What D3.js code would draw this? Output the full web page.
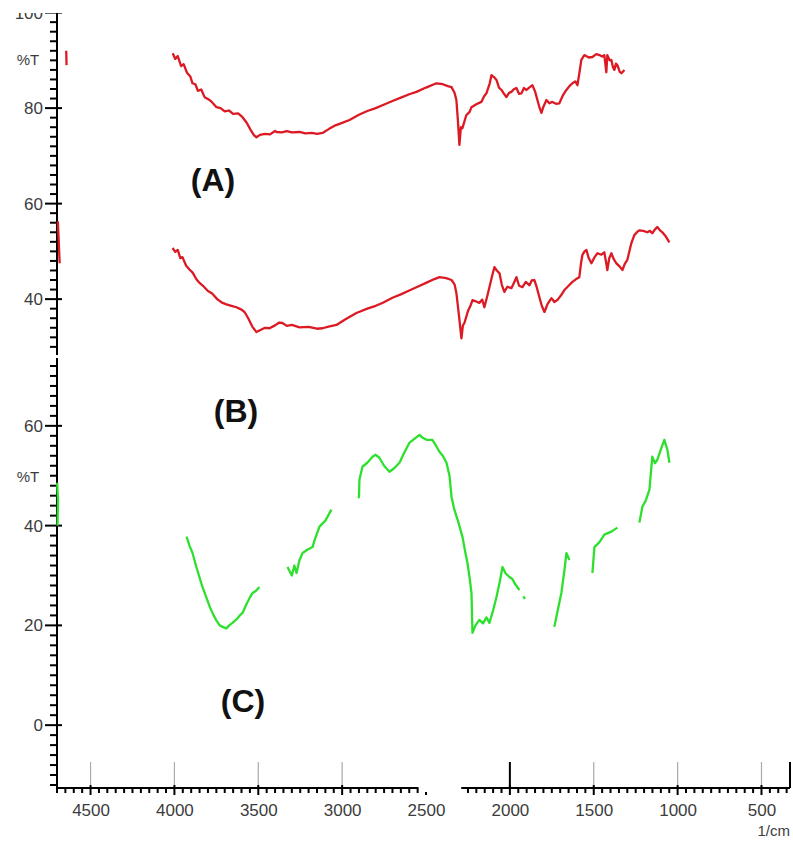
<!DOCTYPE html>
<html>
<head>
<meta charset="utf-8">
<script src="https://cdn.jsdelivr.net/npm/d3@7"></script>
<style>
  body { margin: 0; background: #fff; }
  svg { display: block; font-family: "Liberation Sans", Arial, sans-serif; }
</style>
</head>
<body>
<script>
// FTIR spectra, [wavenumber (1/cm), %T]
var specA = [
  [4010,91.5],[3995,90.3],[3980,90.9],[3960,88.8],[3945,89.2],[3925,87.4],[3905,86.6],[3892,85.2],[3875,85.0],[3860,83.6],
  [3840,83.9],[3820,82.3],[3800,81.9],[3780,81.4],[3749,80.2],[3725,80.0],[3700,79.3],[3675,79.5],[3650,78.8],[3620,78.9],
  [3594,78.1],[3570,77.0],[3545,75.4],[3525,74.3],[3511,73.9],[3490,74.4],[3460,74.6],[3430,74.5],[3400,75.2],[3391,75.0],
  [3360,74.9],[3330,75.2],[3300,74.9],[3254,75.0],[3220,74.7],[3180,74.8],[3150,74.6],[3117,74.8],[3080,75.6],[3040,76.4],
  [3000,76.9],[2956,77.5],[2900,78.6],[2850,79.4],[2800,80.0],[2760,80.6],[2700,81.5],[2650,82.2],[2600,82.9],[2557,83.4],
  [2500,84.3],[2438,85.2],[2400,85.0],[2370,84.6],[2348,84.4],[2330,83.2],[2319,81.7],[2310,77.5],[2301,72.3],[2292,76.0],
  [2283,75.8],[2260,78.5],[2240,79.2],[2229,80.2],[2200,80.8],[2170,81.3],[2155,82.4],[2140,83.1],[2120,85.2],[2110,86.9],
  [2095,86.5],[2080,85.9],[2065,84.3],[2050,83.8],[2035,83.0],[2021,82.3],[2005,83.2],[1991,83.4],[1975,84.0],[1961,84.2],
  [1946,83.0],[1931,83.1],[1916,84.2],[1901,83.8],[1885,84.3],[1866,84.8],[1850,83.5],[1836,81.7],[1824,80.2],[1812,79.0],
  [1800,80.3],[1782,81.7],[1765,81.0],[1747,81.3],[1725,80.9],[1705,81.0],[1685,82.6],[1663,83.8],[1645,84.6],[1627,85.2],
  [1610,85.6],[1597,84.8],[1585,87.5],[1574,90.1],[1556,91.1],[1530,90.6],[1508,90.7],[1485,91.3],[1466,91.1],[1450,90.8],
  [1437,91.1],[1425,87.5],[1419,91.1],[1405,90.0],[1395,90.1],[1385,88.5],[1377,88.0],[1368,89.3],[1359,89.0],[1345,87.6],
  [1335,87.3],[1317,88.0]
];
var specB = [
  [4011,50.7],[3995,49.9],[3980,50.3],[3965,48.6],[3952,48.8],[3930,47.0],[3910,46.2],[3890,45.5],[3870,44.2],[3850,43.4],
  [3830,42.8],[3800,41.7],[3775,41.2],[3745,40.0],[3713,39.2],[3690,38.9],[3660,38.6],[3630,38.3],[3600,37.8],[3582,37.3],
  [3560,36.0],[3535,34.2],[3511,33.1],[3490,33.5],[3460,34.0],[3433,33.9],[3400,34.5],[3375,35.1],[3356,35.0],[3330,34.4],
  [3300,34.6],[3254,34.1],[3200,34.2],[3150,33.8],[3117,33.9],[3075,34.3],[3034,34.6],[2980,35.8],[2915,37.1],[2850,38.0],
  [2800,38.6],[2760,39.2],[2700,40.3],[2650,41.0],[2600,41.8],[2557,42.5],[2500,43.4],[2450,44.2],[2420,44.6],[2380,44.4],
  [2348,44.0],[2330,43.1],[2319,41.3],[2305,37.0],[2289,31.8],[2280,34.5],[2271,35.0],[2250,37.5],[2235,38.6],[2223,39.8],
  [2200,39.5],[2182,39.2],[2165,39.9],[2152,38.3],[2135,40.6],[2122,42.5],[2105,45.0],[2092,46.7],[2078,46.0],[2062,45.4],
  [2048,43.0],[2033,41.5],[2015,42.6],[1991,42.3],[1975,43.5],[1961,44.6],[1945,42.8],[1925,42.5],[1905,43.6],[1883,42.9],
  [1870,43.9],[1854,44.0],[1840,42.5],[1824,40.4],[1810,38.6],[1794,37.3],[1775,39.0],[1752,40.2],[1735,39.4],[1717,39.8],
  [1695,40.8],[1675,41.9],[1650,42.8],[1627,43.6],[1605,44.2],[1586,44.6],[1576,47.5],[1568,49.2],[1555,50.0],[1544,50.3],
  [1530,48.6],[1514,47.5],[1495,48.8],[1478,49.6],[1455,49.3],[1437,49.8],[1428,48.0],[1419,46.1],[1408,48.5],[1395,49.6],
  [1380,48.3],[1365,47.5],[1345,46.8],[1329,46.1],[1315,47.4],[1300,48.2],[1285,50.4],[1276,51.7],[1258,53.4],[1240,54.1],
  [1228,54.4],[1205,54.3],[1180,54.0],[1165,54.3],[1151,53.8],[1135,54.6],[1121,55.1],[1105,54.4],[1091,54.0],[1070,53.1],
  [1049,51.9]
];
// null = gap in the trace
var specC = [
  [3928,37.8],[3910,36.0],[3892,34.5],[3870,31.8],[3850,29.6],[3833,27.7],[3810,25.6],[3790,23.8],[3773,22.5],[3750,21.0],
  [3730,20.0],[3713,19.7],[3690,19.4],[3670,20.1],[3654,20.5],[3630,21.2],[3610,22.0],[3594,22.5],[3570,24.3],[3550,25.6],
  [3534,26.5],[3515,26.9],[3493,27.7],
  [3420,null],
  [3326,31.7],[3300,30.0],[3285,32.0],[3272,30.5],[3255,33.0],[3236,34.5],[3210,35.1],[3177,35.7],[3160,37.5],[3135,39.8],
  [3100,41.0],[3064,43.2],
  [2980,null],
  [2900,45.5],[2897,49.2],[2879,51.8],[2850,52.6],[2819,53.8],[2800,54.2],[2778,53.6],[2750,52.0],[2718,50.8],[2690,51.5],[2658,52.6],
  [2630,54.6],[2599,56.6],[2570,57.4],[2539,58.2],[2520,57.6],[2497,57.2],[2462,57.2],[2440,56.0],[2420,54.8],[2400,54.0],
  [2378,52.6],[2360,50.0],[2348,45.8],[2331,43.2],[2310,41.0],[2283,37.8],[2265,34.5],[2253,32.5],[2240,29.5],[2229,26.5],
  [2223,18.5],[2205,20.0],[2182,21.1],[2160,20.4],[2140,21.6],[2122,20.5],[2100,23.0],[2080,25.7],[2060,28.8],[2044,31.7],
  [2025,30.4],[2003,29.7],[1985,29.3],[1973,28.5],[1943,27.1],
  [1930,null],
  [1920,25.8],[1910,25.3],
  [1800,null],
  [1735,19.7],[1715,23.0],[1693,26.5],[1675,31.0],[1663,34.5],[1645,33.1],
  [1580,null],
  [1508,30.5],[1496,35.7],[1466,36.7],[1437,38.2],[1395,38.8],[1359,39.6],
  [1300,null],
  [1228,40.6],[1210,43.8],[1190,45.0],[1168,47.2],[1151,53.8],[1135,52.5],[1121,53.2],[1100,55.3],[1079,57.2],[1061,55.2],
  [1049,52.6]
];
// bits of trace left over at the left edge
var fragA = [[4645,92.0],[4643,89.0]];
var fragB = [[4695,56.3],[4690,52.5],[4686,49.0],[4684,47.5]];
var fragC = [[4699,48.6],[4694,45.0],[4697,40.0]];

var xMajor = [4500, 4000, 3500, 3000, 2500, 2000, 1500, 1000, 500];
var yTopTicks = [40, 60, 80, 100];
var yBotTicks = [0, 20, 40, 60];
var panelLabels = ["(A)", "(B)", "(C)"];

var W = 793, H = 844;
var ink = "#000", labelInk = "#3c3c3c";
var svg = d3.select("body").append("svg").attr("width", W).attr("height", H);
svg.append("rect").attr("width", W).attr("height", H).attr("fill", "#fff");

var x = d3.scaleLinear().domain([4700, 330]).range([57, 790]);
var yTop = d3.scaleLinear().domain([28.3, 100]).range([355, 12.6]);
var yBot = d3.scaleLinear().domain([-12.6, 73.6]).range([788, 358]);
var baseY = 788;
var gapFrom = 2545, gapTo = 2290;   // x axis is cut here

function vTick(g, data, y1, y2, color, width) {
  return g.selectAll("line").data(data).join("line")
    .attr("x1", function (d) { return x(d); }).attr("x2", function (d) { return x(d); })
    .attr("y1", function (d) { return typeof y1 == "function" ? y1(d) : y1; }).attr("y2", y2)
    .attr("stroke", color).attr("stroke-width", width);
}
function hTick(g, data, scale, x1, x2, width) {
  return g.selectAll("line").data(data).join("line")
    .attr("x1", x1).attr("x2", x2)
    .attr("y1", function (d) { return scale(d); }).attr("y2", function (d) { return scale(d); })
    .attr("stroke", ink).attr("stroke-width", width);
}

// vertical grid stubs above the x axis
vTick(svg.append("g"), xMajor.filter(function (d) { return d != 2500 && d != 2000; }), 762, baseY, "#aaa", 1.2);
vTick(svg.append("g"), [2000, 330], 762, baseY, ink, 2);

// x axis: two segments
[[4700, gapFrom], [gapTo, 330]].forEach(function (seg) {
  svg.append("line").attr("x1", x(seg[0])).attr("x2", x(seg[1]))
    .attr("y1", baseY).attr("y2", baseY).attr("stroke", ink).attr("stroke-width", 2);
});
var xMinor = d3.range(4700, 330, -50).filter(function (d) {
  return xMajor.indexOf(d) < 0 && !(d < gapFrom && d > gapTo);
});
vTick(svg.append("g"), xMinor, baseY, baseY + 5, ink, 2);
vTick(svg.append("g"), xMajor, function (d) { return d == 2500 ? baseY + 4 : baseY - 3; }, baseY + 7, ink, 2);
svg.append("g").attr("transform", "translate(0," + baseY + ")")
  .call(d3.axisBottom(x).tickValues(xMajor).tickSize(0).tickPadding(16).tickFormat(d3.format("d")))
  .call(function (g) {
    g.select(".domain").remove();
    g.selectAll("text").attr("font-size", 17).attr("fill", labelInk)
      .attr("font-family", "Liberation Sans, Arial, sans-serif");
  });
svg.append("text").attr("x", 790).attr("y", 836).attr("text-anchor", "end")
  .attr("font-size", 15).attr("fill", labelInk).text("1/cm");

// y axes, top (A, B) and bottom (C)
function yAxis(scale, majors, minors, pctY) {
  var r = scale.range();
  svg.append("line").attr("x1", 57).attr("x2", 57).attr("y1", r[0]).attr("y2", r[1])
    .attr("stroke", ink).attr("stroke-width", 2);
  hTick(svg.append("g"), minors, scale, 50, 58, 2);
  hTick(svg.append("g"), majors, scale, 45, 62, 2);
  svg.append("g").attr("transform", "translate(57,0)")
    .call(d3.axisLeft(scale).tickValues(majors).tickSize(0).tickPadding(14))
    .call(function (a) {
      a.select(".domain").remove();
      a.selectAll("text").attr("font-size", 17).attr("fill", labelInk)
        .attr("font-family", "Liberation Sans, Arial, sans-serif");
    });
  svg.append("text").attr("x", 28).attr("y", pctY).attr("text-anchor", "middle").attr("dy", "0.35em")
    .attr("font-size", 15).attr("fill", labelInk).text("%T");
}
yAxis(yTop, yTopTicks, d3.range(30, 101, 2).filter(function (d) { return yTopTicks.indexOf(d) < 0; }), 60);
yAxis(yBot, yBotTicks, d3.range(-12, 74, 2).filter(function (d) { return yBotTicks.indexOf(d) < 0; }), 477);

// spectra
function trace(data, yScale, color) {
  var line = d3.line()
    .defined(function (d) { return d[1] != null; })
    .x(function (d) { return x(d[0]); })
    .y(function (d) { return yScale(d[1]); });
  svg.append("path").datum(data).attr("d", line)
    .attr("fill", "none").attr("stroke", color).attr("stroke-width", 2.3)
    .attr("stroke-linejoin", "round");
}
var red = "#dc1a24", green = "#2ee02e";
trace(specA, yTop, red);
trace(specB, yTop, red);
trace(specC, yBot, green);
trace(fragA, yTop, red);
trace(fragB, yTop, red);
trace(fragC, yBot, green);

// panel labels
var labelPos = [[213, 180], [236, 411], [243, 701]];
svg.append("g").selectAll("text").data(panelLabels).join("text")
  .attr("x", function (d, i) { return labelPos[i][0]; })
  .attr("y", function (d, i) { return labelPos[i][1]; })
  .attr("dy", "0.35em").attr("text-anchor", "middle")
  .attr("font-size", 32).attr("font-weight", "bold").attr("fill", "#111")
  .text(function (d) { return d; });

// the original scan is cropped at the top
svg.append("rect").attr("width", W).attr("height", 13).attr("fill", "#fff");
</script>
</body>
</html>
